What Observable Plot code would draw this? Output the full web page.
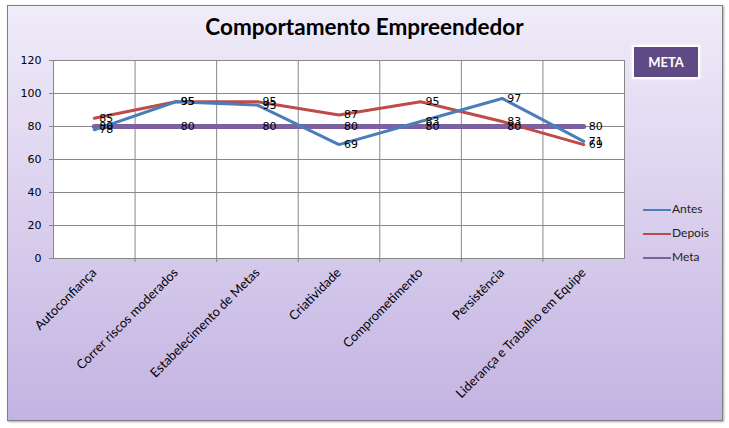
<!DOCTYPE html>
<html><head><meta charset="utf-8">
<script src="https://cdn.jsdelivr.net/npm/d3@7"></script>
<script src="https://cdn.jsdelivr.net/npm/@observablehq/plot@0.6"></script>
<style>
body{margin:0;background:#fff;}
#wrap{position:relative;width:729px;height:428px;overflow:hidden;}
#bg{position:absolute;left:7px;top:5px;width:714px;height:414px;border:1px solid #7f7f7f;background:linear-gradient(#f0ecf9,#c3b3e2);box-shadow:1px 1px 2px rgba(0,0,0,0.35);}
#title{position:absolute;left:0;width:729px;top:13px;text-align:center;font:bold 22.5px Lato, sans-serif;color:#000;}
#chart{position:absolute;left:0;top:0;}
#meta{position:absolute;left:632px;top:45px;width:64px;height:30px;background:#5f4a85;border:2px solid #fff;box-shadow:0 0 3px rgba(255,255,255,0.9);color:#fff;font:bold 13px Lato, sans-serif;text-align:center;line-height:30px;}
.leg{position:absolute;left:643px;font:12px Lato, sans-serif;color:#222;}
.leg span{display:inline-block;width:28px;height:2px;vertical-align:middle;margin-right:1px;}
</style></head>
<body>
<div id="wrap">
  <div id="bg"></div>
  <div id="chart"></div>
  <div id="title">Comportamento Empreendedor</div>
  <div id="meta">META</div>
  <div id="legend"></div>
</div>
<script>
const categories = ["Autoconfiança","Correr riscos moderados","Estabelecimento de Metas","Criatividade","Comprometimento","Persistência","Liderança e Trabalho em Equipe"];
const antes = [78, 95, 93, 69, 83, 97, 71];
const depois = [85, 95, 95, 87, 95, 83, 69];
const meta = [80, 80, 80, 80, 80, 80, 80];
const seriesNames = ["Antes", "Depois", "Meta"];
const seriesColors = ["#4a7ebb", "#be4b48", "#7d60a0"];
const seriesWidths = [3, 3, 5];
const yTicks = [0, 20, 40, 60, 80, 100, 120];

const seriesValues = [antes, depois, meta];
const rows = seriesNames.flatMap((s, k) => seriesValues[k].map((v, i) => ({series: s, i, v})));
const idx = d3.range(categories.length);
const bounds = d3.range(categories.length - 1).map(i => i + 0.5);

const marks = [
  Plot.frame({fill: "white"}),
  Plot.ruleY(yTicks, {stroke: "#878787", strokeWidth: 1, insetLeft: -4}),
  Plot.ruleX(bounds, {stroke: "#878787", strokeWidth: 1, insetBottom: -4}),
  Plot.frame({stroke: "#878787"}),
  Plot.axisY({ticks: yTicks, tickSize: 0, tickPadding: 12, label: null, fontSize: 11, fontFamily: "DejaVu Sans", fill: "#000"}),
  Plot.axisX({ticks: idx, tickFormat: i => categories[i], tickSize: 0, tickPadding: 12, tickRotate: -45, label: null, fontSize: 12.8, fontFamily: "Lato", fill: "#000"})
];
seriesNames.slice().reverse().forEach((s, rk) => {
  const k = seriesNames.length - 1 - rk;
  marks.push(Plot.line(rows.filter(d => d.series === s), {x: "i", y: "v", stroke: seriesColors[k], strokeWidth: seriesWidths[k], strokeLinejoin: "miter"}));
});
seriesNames.forEach((s, k) => {
  marks.push(Plot.text(rows.filter(d => d.series === s), {x: "i", y: "v", text: "v", dx: 5, textAnchor: "start", fontSize: 11, fontFamily: "DejaVu Sans", fill: "#000"}));
});

const chart = Plot.plot({
  width: 729, height: 428,
  marginLeft: 53, marginRight: 105, marginTop: 60, marginBottom: 170,
  style: {background: "transparent", overflow: "visible"},
  x: {domain: [-0.5, categories.length - 0.5], axis: null},
  y: {domain: [0, 120], axis: null},
  marks
});
document.getElementById("chart").appendChild(chart);

const legend = document.getElementById("legend");
seriesNames.forEach((s, k) => {
  const el = document.createElement("div");
  el.className = "leg";
  el.style.top = (201 + k * 24) + "px";
  el.innerHTML = `<span style="background:${seriesColors[k]}"></span>${s}`;
  legend.appendChild(el);
});
</script>
</body></html>
